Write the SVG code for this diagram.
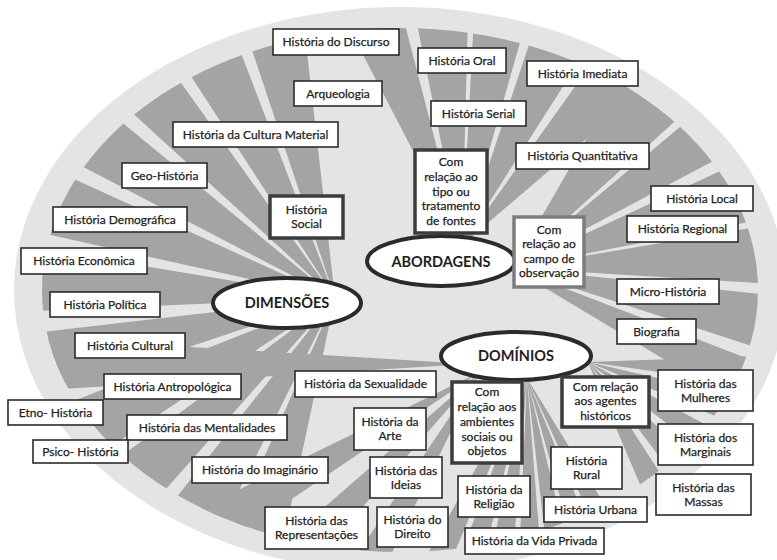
<svg xmlns="http://www.w3.org/2000/svg" width="777" height="560" viewBox="0 0 777 560">
<defs>
<style>
.bg{fill:#e4e4e4}
.box rect{fill:#fff;stroke:#2b2b2b;stroke-width:1.6}
.thick rect{stroke:#3c3c3c;stroke-width:3.5}
.thick.grey rect{stroke:#7d7d7d}
.hub ellipse{fill:#fff;stroke:#2b2b2b;stroke-width:4}
text{font-family:Lato,"Open Sans","Liberation Sans",sans-serif;font-size:12px;fill:#222;stroke:#222;stroke-width:0.25;text-anchor:middle}
.hub text{font-weight:700;font-size:14.5px;fill:#1e1e1e;stroke:none}
</style>
<clipPath id="inner"><ellipse cx="400" cy="290" rx="358" ry="262"/></clipPath>
<path id="w7" d="M0,0 L700,-42.8 L700,42.8Z"/>
<path id="w8" d="M0,0 L700,-49 L700,49Z"/>
<path id="w10" d="M0,0 L700,-61.2 L700,61.2Z"/>
<path id="w12" d="M0,0 L700,-73.6 L700,73.6Z"/>
<path id="w13" d="M0,0 L700,-79.8 L700,79.8Z"/>
<path id="w14" d="M0,0 L700,-86 L700,86Z"/>
<path id="w18" d="M0,0 L700,-110.9 L700,110.9Z"/>
</defs>

<ellipse class="bg" cx="400" cy="290" rx="386" ry="283"/>

<g id="connectors" fill="#a4a4a4" clip-path="url(#inner)">
  <!-- DIMENSÕES fan -->
  <use href="#w12" transform="translate(335 298) rotate(-102.5)"/>
  <use href="#w12" transform="translate(335 298) rotate(-117)"/>
  <use href="#w12" transform="translate(335 298) rotate(-131.6)"/>
  <use href="#w12" transform="translate(335 298) rotate(-146.5)"/>
  <use href="#w12" transform="translate(335 298) rotate(-161.5)"/>
  <use href="#w12" transform="translate(335 298) rotate(-176.5)"/>
  <use href="#w12" transform="translate(335 298) rotate(167.4)"/>
  <use href="#w12" transform="translate(335 298) rotate(152.5)"/>
  <use href="#w12" transform="translate(335 298) rotate(137.5)"/>
  <use href="#w12" transform="translate(335 298) rotate(122.5)"/>
  <use href="#w12" transform="translate(335 298) rotate(108)"/>
  <!-- ABORDAGENS fans -->
  <use href="#w13" transform="translate(462 245) rotate(-111)"/>
  <use href="#w13" transform="translate(462 245) rotate(-95)"/>
  <use href="#w13" transform="translate(462 245) rotate(-80.5)"/>
  <use href="#w14" transform="translate(462 245) rotate(-64.5)"/>
  <use href="#w14" transform="translate(462 245) rotate(-47.5)"/>
  <use href="#w18" transform="translate(512 268) rotate(-51)"/>
  <use href="#w12" transform="translate(512 268) rotate(-34)"/>
  <use href="#w14" transform="translate(512 268) rotate(-18)"/>
  <use href="#w13" transform="translate(512 268) rotate(-3)"/>
  <use href="#w12" transform="translate(512 268) rotate(12)"/>
  <use href="#w10" transform="translate(512 268) rotate(26)"/>
  <!-- DOMÍNIOS fans -->
  <use href="#w10" transform="translate(588 362) rotate(3)"/>
  <use href="#w10" transform="translate(588 362) rotate(18)"/>
  <use href="#w10" transform="translate(588 362) rotate(33)"/>
  <use href="#w10" transform="translate(588 362) rotate(48)"/>
  <use href="#w10" transform="translate(588 362) rotate(62)"/>
  <use href="#w7" transform="translate(527 378) rotate(62)"/>
  <use href="#w7" transform="translate(527 378) rotate(71)"/>
  <use href="#w7" transform="translate(527 378) rotate(80)"/>
  <use href="#w7" transform="translate(527 378) rotate(89)"/>
  <use href="#w7" transform="translate(527 378) rotate(98)"/>
  <use href="#w7" transform="translate(527 378) rotate(107)"/>
  <use href="#w7" transform="translate(527 378) rotate(116)"/>
  <use href="#w7" transform="translate(470 364) rotate(180)"/>
  <use href="#w8" transform="translate(480 372) rotate(120)"/>
  <use href="#w8" transform="translate(480 372) rotate(135)"/>
  <use href="#w8" transform="translate(480 372) rotate(150)"/>
</g>

<g id="hub-abordagens" class="hub"><ellipse cx="441" cy="261" rx="74" ry="25"/><text x="441" y="266.5">ABORDAGENS</text></g>
<g id="hub-dimensoes" class="hub"><ellipse cx="287" cy="303" rx="74" ry="25"/><text x="287" y="308">DIMENSÕES</text></g>
<g id="hub-dominios" class="hub"><ellipse cx="516" cy="356" rx="75" ry="24"/><text x="516" y="361">DOMÍNIOS</text></g>

<g id="n-discurso" class="box"><rect x="273" y="29" width="126" height="26"/><text x="336" y="46">História do Discurso</text></g>
<g id="n-arqueologia" class="box"><rect x="294" y="81" width="88" height="25"/><text x="338" y="97.5">Arqueologia</text></g>
<g id="n-cultura-material" class="box"><rect x="173" y="122" width="165" height="25"/><text x="255.5" y="138.5">História da Cultura Material</text></g>
<g id="n-geo" class="box"><rect x="122" y="163" width="85" height="25"/><text x="164.5" y="179.5">Geo-História</text></g>
<g id="n-demografica" class="box"><rect x="53" y="207" width="134" height="25"/><text x="120" y="223.5">História Demográfica</text></g>
<g id="n-economica" class="box"><rect x="21" y="248" width="126" height="26"/><text x="84" y="265">História Econômica</text></g>
<g id="n-politica" class="box"><rect x="50" y="292" width="110" height="25"/><text x="105" y="308.5">História Política</text></g>
<g id="n-cultural" class="box"><rect x="75" y="333" width="110" height="25"/><text x="130" y="349.5">História Cultural</text></g>
<g id="n-antropologica" class="box"><rect x="104" y="374" width="137" height="25"/><text x="172.5" y="390.5">História Antropológica</text></g>
<g id="n-etno" class="box"><rect x="8" y="400" width="95" height="25"/><text x="55.5" y="416.5">Etno- História</text></g>
<g id="n-mentalidades" class="box"><rect x="127" y="415" width="160" height="25"/><text x="207" y="431.5">História das Mentalidades</text></g>
<g id="n-psico" class="box"><rect x="33" y="440" width="95" height="23"/><text x="80.5" y="455.5">Psico- História</text></g>
<g id="n-imaginario" class="box"><rect x="192" y="457" width="136" height="26"/><text x="260" y="474">História do Imaginário</text></g>
<g id="n-representacoes" class="box"><rect x="265" y="507" width="103" height="42"/><text x="316.5" y="525">História das</text><text x="316.5" y="539">Representações</text></g>
<g id="n-sexualidade" class="box"><rect x="295" y="371" width="141" height="26"/><text x="365.5" y="388">História da Sexualidade</text></g>
<g id="n-arte" class="box"><rect x="354" y="408" width="72" height="42"/><text x="390" y="426">História da</text><text x="390" y="440">Arte</text></g>
<g id="n-ideias" class="box"><rect x="370" y="457" width="72" height="41"/><text x="406" y="474.5">História das</text><text x="406" y="488.5">Ideias</text></g>
<g id="n-direito" class="box"><rect x="377" y="507" width="71" height="40"/><text x="412.5" y="524">História do</text><text x="412.5" y="538">Direito</text></g>
<g id="n-religiao" class="box"><rect x="458" y="476" width="72" height="41"/><text x="494" y="493.5">História da</text><text x="494" y="507.5">Religião</text></g>
<g id="n-vida-privada" class="box"><rect x="465" y="528" width="139" height="26"/><text x="534.5" y="545">História da Vida Privada</text></g>
<g id="n-rural" class="box"><rect x="551" y="447" width="71" height="42"/><text x="586.5" y="465">História</text><text x="586.5" y="479">Rural</text></g>
<g id="n-urbana" class="box"><rect x="544" y="497" width="103" height="25"/><text x="595.5" y="513.5">História Urbana</text></g>
<g id="n-mulheres" class="box"><rect x="658" y="370" width="95" height="41"/><text x="705.5" y="387.5">História das</text><text x="705.5" y="401.5">Mulheres</text></g>
<g id="n-marginais" class="box"><rect x="658" y="424" width="95" height="41"/><text x="705.5" y="441.5">História dos</text><text x="705.5" y="455.5">Marginais</text></g>
<g id="n-massas" class="box"><rect x="656" y="474" width="95" height="41"/><text x="703.5" y="491.5">História das</text><text x="703.5" y="505.5">Massas</text></g>
<g id="n-biografia" class="box"><rect x="617" y="319" width="79" height="25"/><text x="656.5" y="335.5">Biografia</text></g>
<g id="n-micro" class="box"><rect x="617" y="279" width="102" height="25"/><text x="668" y="295.5">Micro-História</text></g>
<g id="n-regional" class="box"><rect x="627" y="216" width="111" height="26"/><text x="682.5" y="233">História Regional</text></g>
<g id="n-local" class="box"><rect x="651" y="186" width="102" height="25"/><text x="702" y="202.5">História Local</text></g>
<g id="n-quantitativa" class="box"><rect x="516" y="143" width="133" height="26"/><text x="582.5" y="160">História Quantitativa</text></g>
<g id="n-serial" class="box"><rect x="431" y="101" width="95" height="25"/><text x="478.5" y="117.5">História Serial</text></g>
<g id="n-imediata" class="box"><rect x="527" y="61" width="111" height="25"/><text x="582.5" y="77.5">História Imediata</text></g>
<g id="n-oral" class="box"><rect x="418" y="48" width="88" height="25"/><text x="462" y="64.5">História Oral</text></g>

<g id="n-social" class="box thick"><rect x="270" y="196" width="73" height="42"/><text x="306.5" y="214">História</text><text x="306.5" y="228">Social</text></g>
<g id="n-tipo-fontes" class="box thick"><rect x="415" y="150" width="72" height="83"/><text x="451" y="166">Com</text><text x="451" y="181">relação ao</text><text x="451" y="195.5">tipo ou</text><text x="451" y="210">tratamento</text><text x="451" y="225">de fontes</text></g>
<g id="n-campo" class="box thick grey"><rect x="514" y="217" width="70" height="70"/><text x="549" y="233.5">Com</text><text x="549" y="248">relação ao</text><text x="549" y="262.5">campo de</text><text x="549" y="277">observação</text></g>
<g id="n-ambientes" class="box thick"><rect x="452" y="382" width="70" height="81"/><text x="487" y="396">Com</text><text x="487" y="411">relação aos</text><text x="487" y="426">ambientes</text><text x="487" y="441">sociais ou</text><text x="487" y="455">objetos</text></g>
<g id="n-agentes" class="box thick"><rect x="562" y="377" width="87" height="50"/><text x="605.5" y="391">Com relação</text><text x="605.5" y="405">aos agentes</text><text x="605.5" y="420">históricos</text></g>
</svg>
